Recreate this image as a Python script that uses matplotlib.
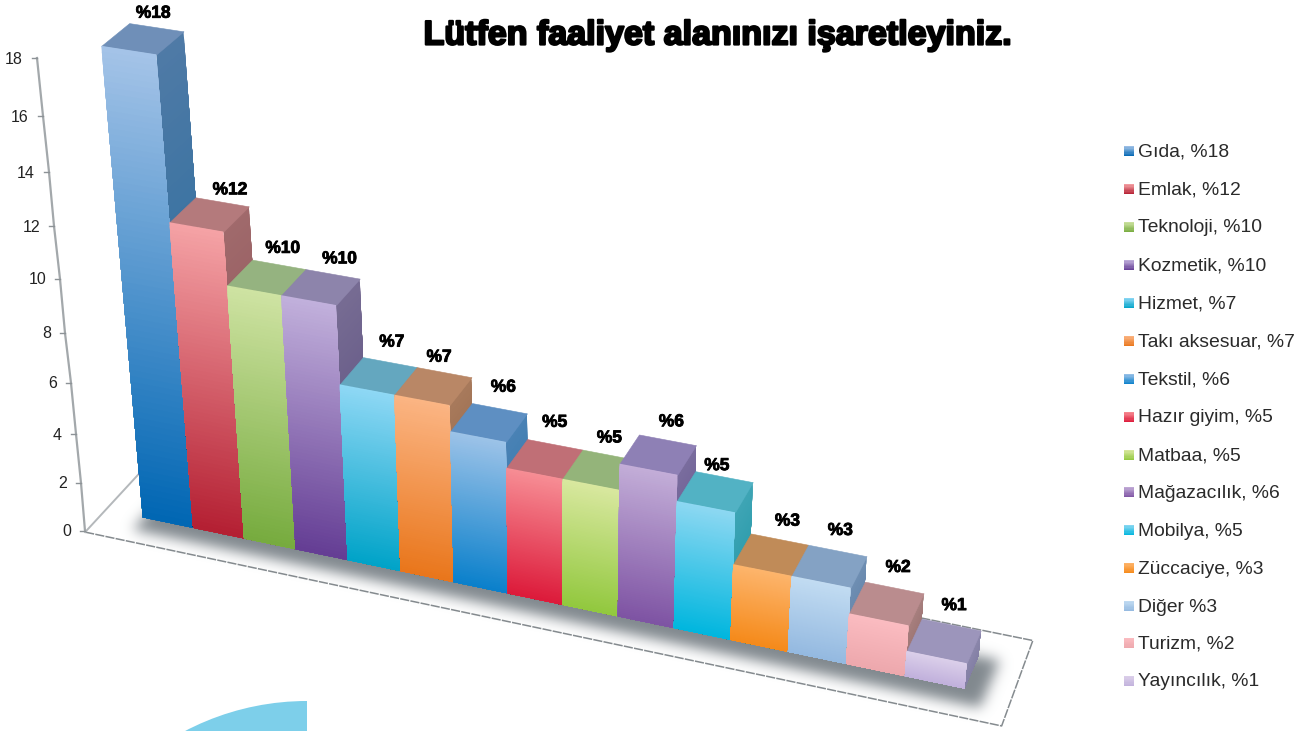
import matplotlib
matplotlib.use("Agg")
import matplotlib.pyplot as plt
import matplotlib.patheffects as pe
from matplotlib.collections import PolyCollection
from matplotlib.colors import to_rgb
from matplotlib.patches import Wedge
from matplotlib.path import Path
import numpy as np

W, H = 1312, 731

# data
names = ["Gıda", "Emlak", "Teknoloji", "Kozmetik", "Hizmet", "Takı aksesuar", "Tekstil", "Hazır giyim",
         "Matbaa", "Mağazacılık", "Mobilya", "Züccaciye", "Diğer", "Turizm", "Yayıncılık"]
values = [18, 12, 10, 10, 7, 7, 6, 5, 5, 6, 5, 3, 3, 2, 1]
legend_labels = ["Gıda, %18", "Emlak, %12", "Teknoloji, %10", "Kozmetik, %10", "Hizmet, %7",
                 "Takı aksesuar, %7", "Tekstil, %6", "Hazır giyim, %5", "Matbaa, %5", "Mağazacılık, %6",
                 "Mobilya, %5", "Züccaciye, %3", "Diğer %3", "Turizm, %2", "Yayıncılık, %1"]
y_ticks = [0, 2, 4, 6, 8, 10, 12, 14, 16, 18]

# colours: front top, front bottom, top face, side top, side bottom
front_top = ["#a5c4e8", "#f5a3a6", "#cfe3a3", "#c2b1dc", "#8fd8f5", "#fbb584", "#9dc3e8", "#f78e95",
             "#d9e8a0", "#c3aed8", "#8ed8f2", "#fdb56d", "#c2dcf2", "#fbbcc1", "#dcd0ea"]
front_bot = ["#0066b3", "#b41f32", "#76ab3e", "#643d94", "#00a3c8", "#e9761b", "#0a80cb", "#dc1a3a",
             "#92c83e", "#7e53a3", "#00b6de", "#f58a1a", "#94b9e0", "#eda8ad", "#c1b1dc"]
top_face = ["#6f8fb8", "#b47a7c", "#95b380", "#8d84ab", "#64a7bf", "#b98766", "#5e8fc2", "#c06f76",
            "#94b47a", "#8e80b5", "#52b2c4", "#c08b58", "#84a2c4", "#ba8c8e", "#9c95bb"]
side_top = ["#4f7aa6", "#a06a6c", "#7f9a6c", "#776c93", "#4f96ad", "#a87a5c", "#4a82b5", "#a8626a",
            "#7f9a6c", "#7a6d9e", "#3fa5b5", "#a87a50", "#6f8fb3", "#a8807f", "#8c87ac"]
side_bot = ["#1f6a9c", "#8a4a50", "#5f8a4c", "#564a7c", "#2a8aa0", "#8a5c3c", "#2a75a8", "#8a4a50",
            "#5f8a4c", "#5f4f8a", "#1f95a5", "#8a5c3c", "#5f7fa5", "#98706f", "#8480a5"]

# the labels sit a little off the bar centres in the original
label_nudge = [(-3, 6), (8, 8), (4, 4), (7, 5), (2, 0), (-5, 5), (4, -1), (0, -2),
               (-1, 3), (4, 2), (-7, 9), (8, 2), (3, 0), (4, 0), (3, 1)]

# calibration of the drawing's perspective: (slot, value, depth) -> pixel
world = np.array([
    (0, 0, 0), (1, 0, 0), (5, 0, 0), (10, 0, 0), (15, 0, 0),
    (0, 18, 0), (1, 18, 0), (2, 12, 0), (5, 7, 0), (10, 6, 0), (13, 3, 0), (14, 2, 0), (15, 1, 0),
    (0, 18, 1), (1, 18, 1), (2, 12, 1), (4, 10, 1), (6, 7, 1), (7, 6, 1), (10, 6, 1), (13, 3, 1),
    (14, 2, 1), (15, 1, 1), (15, 0, 1),
], dtype=float)
pixel = np.array([
    (143, 518), (193, 527), (400, 571), (673, 628), (966, 689),
    (102, 46), (157, 54), (223, 230), (395, 395), (677, 475), (850, 588), (907, 626), (967, 663),
    (128, 23), (183, 32), (249, 207), (360, 278), (472, 377), (527, 415), (697, 445), (866, 556),
    (923, 593), (980, 631), (980, 654),
], dtype=float)

rows, rhs = [], []
for (a, b, c), (u, v) in zip(world, pixel):
    rows.append([a, b, c, 1, 0, 0, 0, 0, -u * a, -u * b, -u * c])
    rows.append([0, 0, 0, 0, a, b, c, 1, -v * a, -v * b, -v * c])
    rhs += [u, v]
coef = np.linalg.lstsq(np.array(rows), np.array(rhs), rcond=None)[0]
P = np.append(coef, 1).reshape(3, 4)


def project(x, v, d):
    q = P @ np.array([x, v, d, 1.0])
    return q[0] / q[2], q[1] / q[2]


def blend(c1, c2, t):
    return tuple((1 - t) * np.array(to_rgb(c1)) + t * np.array(to_rgb(c2)))


def gradient_face(ax, p0, p1, p2, p3, c1, c2, z, n=80):
    # p0-p1 top edge, p3-p2 bottom edge, strips overlap so no seams show
    p0, p1, p2, p3 = map(np.array, (p0, p1, p2, p3))
    polys, cols = [], []
    for i in range(n):
        t0, t1 = i / n, 1.0
        polys.append([p0 + (p3 - p0) * t0, p1 + (p2 - p1) * t0, p1 + (p2 - p1) * t1, p0 + (p3 - p0) * t1])
        cols.append(blend(c1, c2, (i + 0.5) / n))
    ax.add_collection(PolyCollection(polys, facecolors=cols, edgecolors="none", zorder=z))


fig = plt.figure(figsize=(W / 100, H / 100), dpi=100)
ax = fig.add_axes([0, 0, 1, 1])
ax.set_xlim(0, W)
ax.set_ylim(H, 0)
ax.axis("off")

# blurred shadow on the floor
corners = [project(0.0, 0, -0.42), project(15.35, 0, -0.42), project(15.35, 0, 1.0), project(0.0, 0, 1.0)]
gx, gy = np.meshgrid(np.arange(W), np.arange(H))
mask = Path(corners).contains_points(np.c_[gx.ravel(), gy.ravel()]).reshape(H, W).astype(float)
fx = np.fft.fftfreq(W)[None, :]
fy = np.fft.fftfreq(H)[:, None]
sigma = 6.5
blur = np.fft.ifft2(np.fft.fft2(mask) * np.exp(-2 * (np.pi * sigma) ** 2 * (fx ** 2 + fy ** 2))).real
rgba = np.zeros((H, W, 4))
rgba[..., :3] = to_rgb("#7a8288")
rgba[..., 3] = np.clip(blur, 0, 1) * 0.95
ax.imshow(rgba, extent=(0, W, H, 0), zorder=2, aspect="auto")

# floor outline and axis
floor = [project(-0.74, 0, -0.8), project(15.8, 0, -0.8), project(15.75, 0, 1.75), project(-0.74, 0, 1.75)]
ax.plot(*zip(floor[0], floor[1], floor[2], floor[3]), color="#858b8f", lw=1.1, ls=(0, (6, 0.8)), zorder=1)
ax.plot(*zip(floor[3], floor[0]), color="#b4b8bb", lw=1.4, zorder=1)

tick_y = [531, 483, 434, 383, 333, 279, 226, 172, 116, 58]
tick_x = [85, 81, 76, 71, 65, 60, 54, 49, 43, 37]
ax.plot(tick_x, tick_y, color="#a3a8ab", lw=1.6, zorder=1)
for t, tx, ty in zip(y_ticks, tick_x, tick_y):
    ax.plot([tx - 5, tx], [ty, ty], color="#8c9296", lw=1, zorder=1)
    ax.text(tx - 14, ty + 1, str(t), ha="right", va="center", fontsize=11.5, family="Liberation Sans", color="#222222")

# bars, painted from left to right
for i, v in enumerate(values):
    z = 3 + i
    gradient_face(ax, project(i + 1, v, 0), project(i + 1, v, 1), project(i + 1, 0, 1), project(i + 1, 0, 0),
                  side_top[i], side_bot[i], z)
    ax.add_collection(PolyCollection([[project(i, v, 0), project(i + 1, v, 0), project(i + 1, v, 1), project(i, v, 1)]],
                                     facecolors=top_face[i], edgecolors=top_face[i], linewidths=0.4, zorder=z))
    gradient_face(ax, project(i, v, 0), project(i + 1, v, 0), project(i + 1, 0, 0), project(i, 0, 0),
                  front_top[i], front_bot[i], z)
    lx, ly = project(i + 0.5, v, 1)
    ax.text(lx + label_nudge[i][0], ly - 20 + label_nudge[i][1], "%" + str(v), ha="center", va="center",
            fontsize=12.5, fontweight="bold", family="Liberation Sans", color="black", zorder=30,
            path_effects=[pe.withStroke(linewidth=0.6, foreground="black")])

# legend
legend_y = [152, 190, 228, 266, 304, 342, 380, 418, 456, 493, 531, 569, 607, 644, 682]
for i, (lab, ly) in enumerate(zip(legend_labels, legend_y)):
    gradient_face(ax, (1124, ly - 6), (1134, ly - 6), (1134, ly + 4), (1124, ly + 4), front_top[i], front_bot[i], 20, n=8)
    ax.text(1138, ly, lab, ha="left", va="center", fontsize=13.9, family="Liberation Sans", color="#2a2a2a")

# title
ax.text(717, 36, "Lütfen faaliyet alanınızı işaretleyiniz.", ha="center", va="center", fontsize=24.5,
        fontweight="bold", family="Liberation Sans", color="black",
        path_effects=[pe.withStroke(linewidth=1.6, foreground="black")])

# piece of the next graphic at the page bottom
ax.add_patch(Wedge((307, 964), 263, 180, 270, facecolor="#7dcfea", edgecolor="none", zorder=1))

fig.savefig("out.png", dpi=100)
